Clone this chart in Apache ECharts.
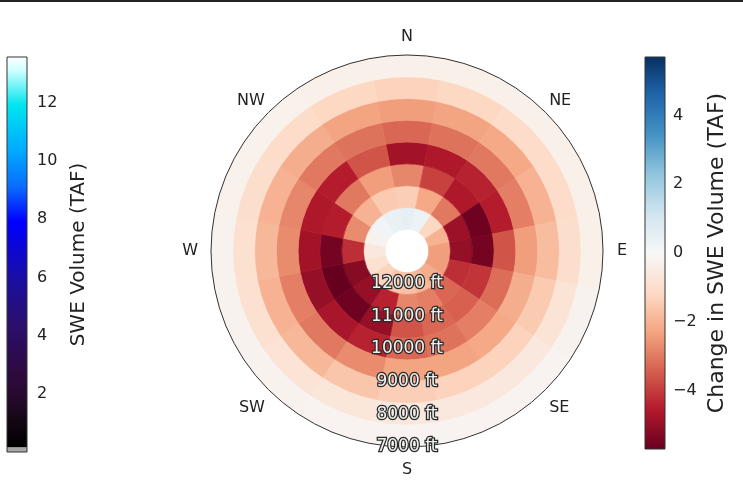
<!DOCTYPE html>
<html><head><meta charset="utf-8">
<script src="https://cdn.jsdelivr.net/npm/echarts@6/dist/echarts.min.js"></script>
<style>html,body{margin:0;padding:0;background:#fff}#c{width:743px;height:484px}</style>
</head><body><div id="c"></div>
<script>
// ---- data ----
const sectorNames = ['N','NNE','NE','ENE','E','ESE','SE','SSE','S','SSW','SW','WSW','W','WNW','NW','NNW'];
const sectorBearings = [0,22.5,45,67.5,90,112.5,135,157.5,180,-157.5,-135,-112.5,-90,-67.5,-45,-22.5];
const sectorHalfWidth = 11.25;
const bandUpper = [12333,11667,11000,10333,9667,9000,8333,7667];
const bandLower = [11667,11000,10333,9667,9000,8333,7667,7000];
// change in SWE volume (TAF), one array per elevation band, sectors in sectorNames order
const band_12333_11667 = [0.5,0.3,-1.2,-2.0,-2.4,-2.4,-2.1,-1.9,-1.7,-1.6,-1.3,-0.9,-0.6,-0.2,0.2,0.4];
const band_11667_11000 = [-1.4,-2.2,-3.0,-4.9,-5.0,-4.2,-3.3,-2.9,-2.8,-4.4,-5.0,-5.2,-4.2,-2.7,-2.0,-1.5];
const band_11000_10333 = [-2.8,-3.9,-4.6,-5.6,-5.5,-4.1,-3.4,-3.3,-3.6,-5.0,-5.6,-5.7,-5.5,-4.5,-3.0,-2.4];
const band_10333_9667  = [-4.8,-4.6,-4.4,-4.5,-3.6,-3.2,-2.9,-3.1,-3.3,-4.4,-4.7,-5.0,-4.8,-4.6,-4.5,-3.6];
const band_9667_9000   = [-3.3,-3.1,-3.0,-2.9,-2.4,-2.1,-2.2,-2.3,-2.3,-2.7,-3.0,-2.9,-2.7,-2.8,-3.0,-3.1];
const band_9000_8333   = [-2.4,-2.3,-2.2,-2.0,-1.8,-1.5,-1.3,-1.3,-1.4,-1.6,-1.9,-2.0,-1.9,-2.0,-2.1,-2.3];
const band_8333_7667   = [-1.3,-1.2,-1.1,-1.1,-1.0,-0.8,-0.6,-0.6,-0.6,-0.7,-0.8,-0.9,-0.9,-1.0,-1.1,-1.2];
const band_7667_7000   = [-0.3,-0.3,-0.3,-0.3,-0.3,-0.2,-0.15,-0.15,-0.15,-0.15,-0.2,-0.2,-0.2,-0.25,-0.25,-0.3];
const bands = [band_12333_11667,band_11667_11000,band_11000_10333,band_10333_9667,band_9667_9000,band_9000_8333,band_8333_7667,band_7667_7000];
const elevTicks = [7000,8000,9000,10000,11000,12000];
const compassTicks = {'-180':'S','-135':'SW','-90':'W','-45':'NW','0':'N','45':'NE','90':'E','135':'SE'};
const changeRange = [-5.7, 5.7];
const changeTicks = [-4,-2,0,2,4];
const sweRange = [0, 13.57];
const sweTicks = [2,4,6,8,10,12];
// colormaps
const rdbu = ['#67001f','#b2182b','#d6604d','#f4a582','#fddbc7','#f7f7f7','#d1e5f0','#92c5de','#4393c3','#2166ac','#053061'];
const sweCmap = [[0,'#a8a8a8'],[0.17,'#a8a8a8'],[0.18,'#000000'],[0.5,'#060206'],[1.0,'#120612'],[2.0,'#280a30'],[2.75,'#2e0a40'],[4.5,'#2a0f70'],[5.9,'#1a0fa0'],[7.9,'#0000ff'],[9.1,'#0a6cff'],[10.3,'#00a8ff'],[11.9,'#00e5ee'],[13.1,'#d0ffff'],[13.57,'#ffffff']];

// ---- build ----
const polarData = [];
bands.forEach((vals, i) => vals.forEach((v, j) => {
  polarData.push([bandUpper[i], sectorBearings[j], v, bandLower[i], sectorHalfWidth]);
}));

const font = 'DejaVu Sans';
function sectorItem(params, api) {
  const cs = params.coordSys, cx = cs.cx, cy = cs.cy;
  const eIn = api.value(0), b = api.value(1), eOut = api.value(3), hw = api.value(4);
  const pIn = api.coord([eIn, b]), pOut = api.coord([eOut, b]);
  const r0 = Math.hypot(pIn[0]-cx, pIn[1]-cy), r = Math.hypot(pOut[0]-cx, pOut[1]-cy);
  const a1 = api.coord([eOut, b - hw]), a2 = api.coord([eOut, b + hw]);
  let s = Math.atan2(a1[1]-cy, a1[0]-cx), e = Math.atan2(a2[1]-cy, a2[0]-cx);
  if (e < s) e += 2*Math.PI;
  const c = api.visual('color');
  return {type:'sector', shape:{cx, cy, r0, r, startAngle:s, endAngle:e, clockwise:true},
          style:{fill:c, stroke:c, lineWidth:0.7}};
}
function colorbarItem(stops, vmin, vmax) {
  return function(params, api) {
    const p0 = api.coord([0, vmin]), p1 = api.coord([1, vmax]);
    const grad = new echarts.graphic.LinearGradient(0, 1, 0, 0,
      stops.map(s => ({offset:(s[0]-vmin)/(vmax-vmin), color:s[1]})));
    return {type:'rect', shape:{x:p0[0], y:p1[1], width:p1[0]-p0[0], height:p0[1]-p1[1]},
            style:{fill:grad, stroke:'#333', lineWidth:1}};
  };
}
const rdbuStops = rdbu.map((c, k) => [changeRange[0] + k*(changeRange[1]-changeRange[0])/(rdbu.length-1), c]);
const lbl = {fontSize:16, color:'#222', fontFamily:font};
const compassStyle = {N:'n', S:'s', E:'e', W:'w', NE:'u', NW:'u', SE:'d', SW:'d'};

const chart = echarts.init(document.getElementById('c'), null, {renderer:'canvas'});
chart.setOption({
  backgroundColor:'#ffffff',
  animation:false,
  textStyle:{fontFamily:font},
  graphic:[{type:'rect', shape:{x:0,y:0,width:743,height:2}, style:{fill:'#222'}}],
  polar:{center:[407,251], radius:196},
  angleAxis:{type:'value', min:-180, max:180, interval:45, startAngle:270, clockwise:true, z:10,
    axisLine:{show:true, lineStyle:{color:'#333', width:1}},
    axisTick:{show:false}, splitLine:{show:false},
    axisLabel:{margin:5, fontSize:16, color:'#222', fontFamily:font,
      rich:{
        n:Object.assign({padding:[0,0,5,0]}, lbl),
        s:Object.assign({padding:[10,0,0,0]}, lbl),
        e:Object.assign({padding:[0,0,0,9]}, lbl),
        w:Object.assign({padding:[0,8,0,0]}, lbl),
        u:Object.assign({padding:[0,0,0,0]}, lbl),
        d:Object.assign({padding:[7,0,0,0]}, lbl)
      },
      formatter:v => {
        if (v === 180) return '';
        const t = compassTicks[String(v)];
        return t ? '{' + compassStyle[t] + '|' + t + '}' : '';
      }}},
  radiusAxis:{type:'value', min:7000, max:13000, interval:1000, inverse:true, z:11,
    axisLine:{show:false}, axisTick:{show:false}, splitLine:{show:false},
    axisLabel:{margin:0, align:'center', verticalAlign:'middle', fontSize:17, fontFamily:font,
      color:'#eef2ee', textBorderColor:'#2a2a2a', textBorderWidth:2.5,
      formatter:v => (elevTicks.indexOf(v) >= 0 ? v + ' ft' : '')}},
  grid:[{left:7, top:57, width:20, height:395}, {left:645, top:57, width:20, height:392}],
  xAxis:[{gridIndex:0, type:'value', min:0, max:1, show:false},
         {gridIndex:1, type:'value', min:0, max:1, show:false}],
  yAxis:[
    {gridIndex:0, type:'value', min:sweRange[0], max:sweRange[1], position:'right',
     axisLine:{show:false}, splitLine:{show:false},
     axisTick:{show:true, length:4, customValues:sweTicks, lineStyle:{color:'#222'}},
     axisLabel:{fontSize:16, color:'#222', margin:10, customValues:sweTicks, fontFamily:font},
     name:'SWE Volume (TAF)', nameLocation:'middle', nameRotate:90, nameGap:42,
     nameTextStyle:{fontSize:20, color:'#222', fontFamily:font}},
    {gridIndex:1, type:'value', min:changeRange[0], max:changeRange[1], position:'right',
     axisLine:{show:false}, splitLine:{show:false},
     axisTick:{show:true, length:4, customValues:changeTicks, lineStyle:{color:'#222'}},
     axisLabel:{fontSize:16, color:'#222', margin:8, customValues:changeTicks, fontFamily:font,
       formatter:v => (v < 0 ? '\u2212' + Math.abs(v) : String(v))},
     name:'Change in SWE Volume (TAF)', nameLocation:'middle', nameRotate:90, nameGap:41,
     nameTextStyle:{fontSize:22, color:'#222', fontFamily:font}}
  ],
  visualMap:[{type:'continuous', show:false, min:changeRange[0], max:changeRange[1],
    dimension:2, seriesIndex:0, inRange:{color:rdbu}}],
  series:[
    {type:'custom', coordinateSystem:'polar', encode:{radius:0, angle:1},
     renderItem:sectorItem, data:polarData, z:2, silent:true},
    {type:'custom', coordinateSystem:'cartesian2d', xAxisIndex:0, yAxisIndex:0,
     renderItem:colorbarItem(sweCmap, sweRange[0], sweRange[1]), data:[[0, sweRange[0]]], silent:true},
    {type:'custom', coordinateSystem:'cartesian2d', xAxisIndex:1, yAxisIndex:1,
     renderItem:colorbarItem(rdbuStops, changeRange[0], changeRange[1]), data:[[0, changeRange[0]]], silent:true}
  ]
});
</script></body></html>
